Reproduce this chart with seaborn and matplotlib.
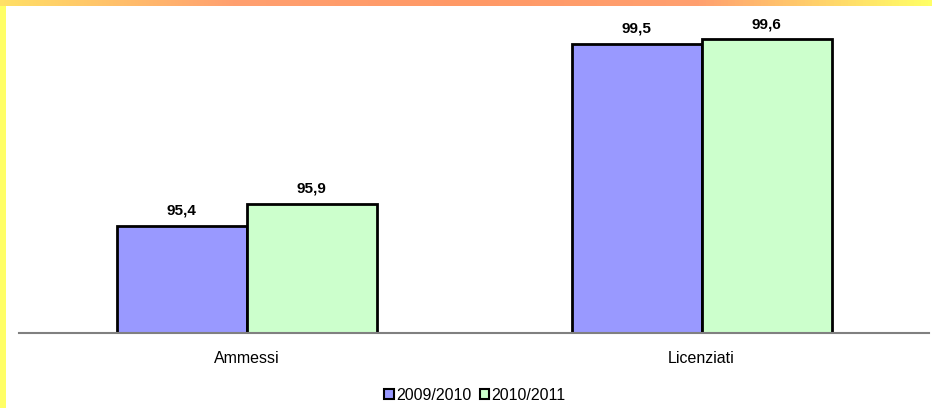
import numpy as np
import pandas as pd
import matplotlib
matplotlib.use("Agg")
import matplotlib.pyplot as plt
import seaborn as sns
from matplotlib.colors import LinearSegmentedColormap
from matplotlib.patches import Patch

categories = ["Ammessi", "Licenziati"]
series_names = ["2009/2010", "2010/2011"]
values_2009 = [95.4, 99.5]
values_2010 = [95.9, 99.6]

df = pd.DataFrame({
    "cat": categories * 2,
    "year": [series_names[0]] * 2 + [series_names[1]] * 2,
    "val": values_2009 + values_2010,
})

sns.set_style("white")
plt.rcParams['font.family'] = ['Liberation Sans', 'DejaVu Sans']
plt.rcParams['text.color'] = 'black'
plt.rcParams['xtick.color'] = 'black'

W, H = 932, 408
fig = plt.figure(figsize=(W / 100, H / 100), dpi=100)

# decorative borders
band = fig.add_axes([0, 1 - 6 / H, 1, 6 / H])
cmap = LinearSegmentedColormap.from_list("b", ["#FFE066", "#FFA070", "#FF9966", "#FFA070", "#FFFF66"])
band.imshow(np.linspace(0, 1, 256)[None, :], aspect="auto", cmap=cmap, extent=[0, 1, 0, 1])
band.axis("off")
left = fig.add_axes([0, 0, 6 / W, 1 - 6 / H])
left.set_facecolor("#FFFF66")
left.set_xticks([]); left.set_yticks([])
for s in left.spines.values():
    s.set_visible(False)

ax = fig.add_axes([19 / W, (H - 333) / H, 910 / W, 315 / H])
palette = {series_names[0]: "#9999FF", series_names[1]: "#CCFFCC"}
sns.barplot(data=df, x="cat", y="val", hue="year", palette=palette, ax=ax,
            width=260 / 455, gap=0, edgecolor="black", linewidth=2,
            saturation=1, legend=False)
ax.set_ylim(93, 100.08)
ax.set_xlim(-0.5, 1.5)
ax.set_xlabel(""); ax.set_ylabel("")
ax.set_yticks([])
for s in ["top", "right", "left"]:
    ax.spines[s].set_visible(False)
ax.spines["bottom"].set_color("#808080")
ax.spines["bottom"].set_linewidth(1.5)
ax.tick_params(axis="x", length=0, pad=13, labelsize=11.5, labelcolor="black")

for cont in ax.containers:
    labels = [f"{v:.1f}".replace(".", ",") for v in cont.datavalues]
    ax.bar_label(cont, labels=labels, padding=6, fontsize=11, fontweight="bold", color="black")

handles = [Patch(facecolor=palette[n], edgecolor="black", linewidth=1.5, label=n) for n in series_names]
fig.legend(handles=handles, loc="center", bbox_to_anchor=(475 / W, 1 - 395 / H), ncol=2,
           frameon=False, fontsize=11.5, handlelength=0.6, handleheight=0.6,
           handletextpad=0.15, columnspacing=0.5, labelcolor="black")

fig.savefig("out.png", dpi=100)
